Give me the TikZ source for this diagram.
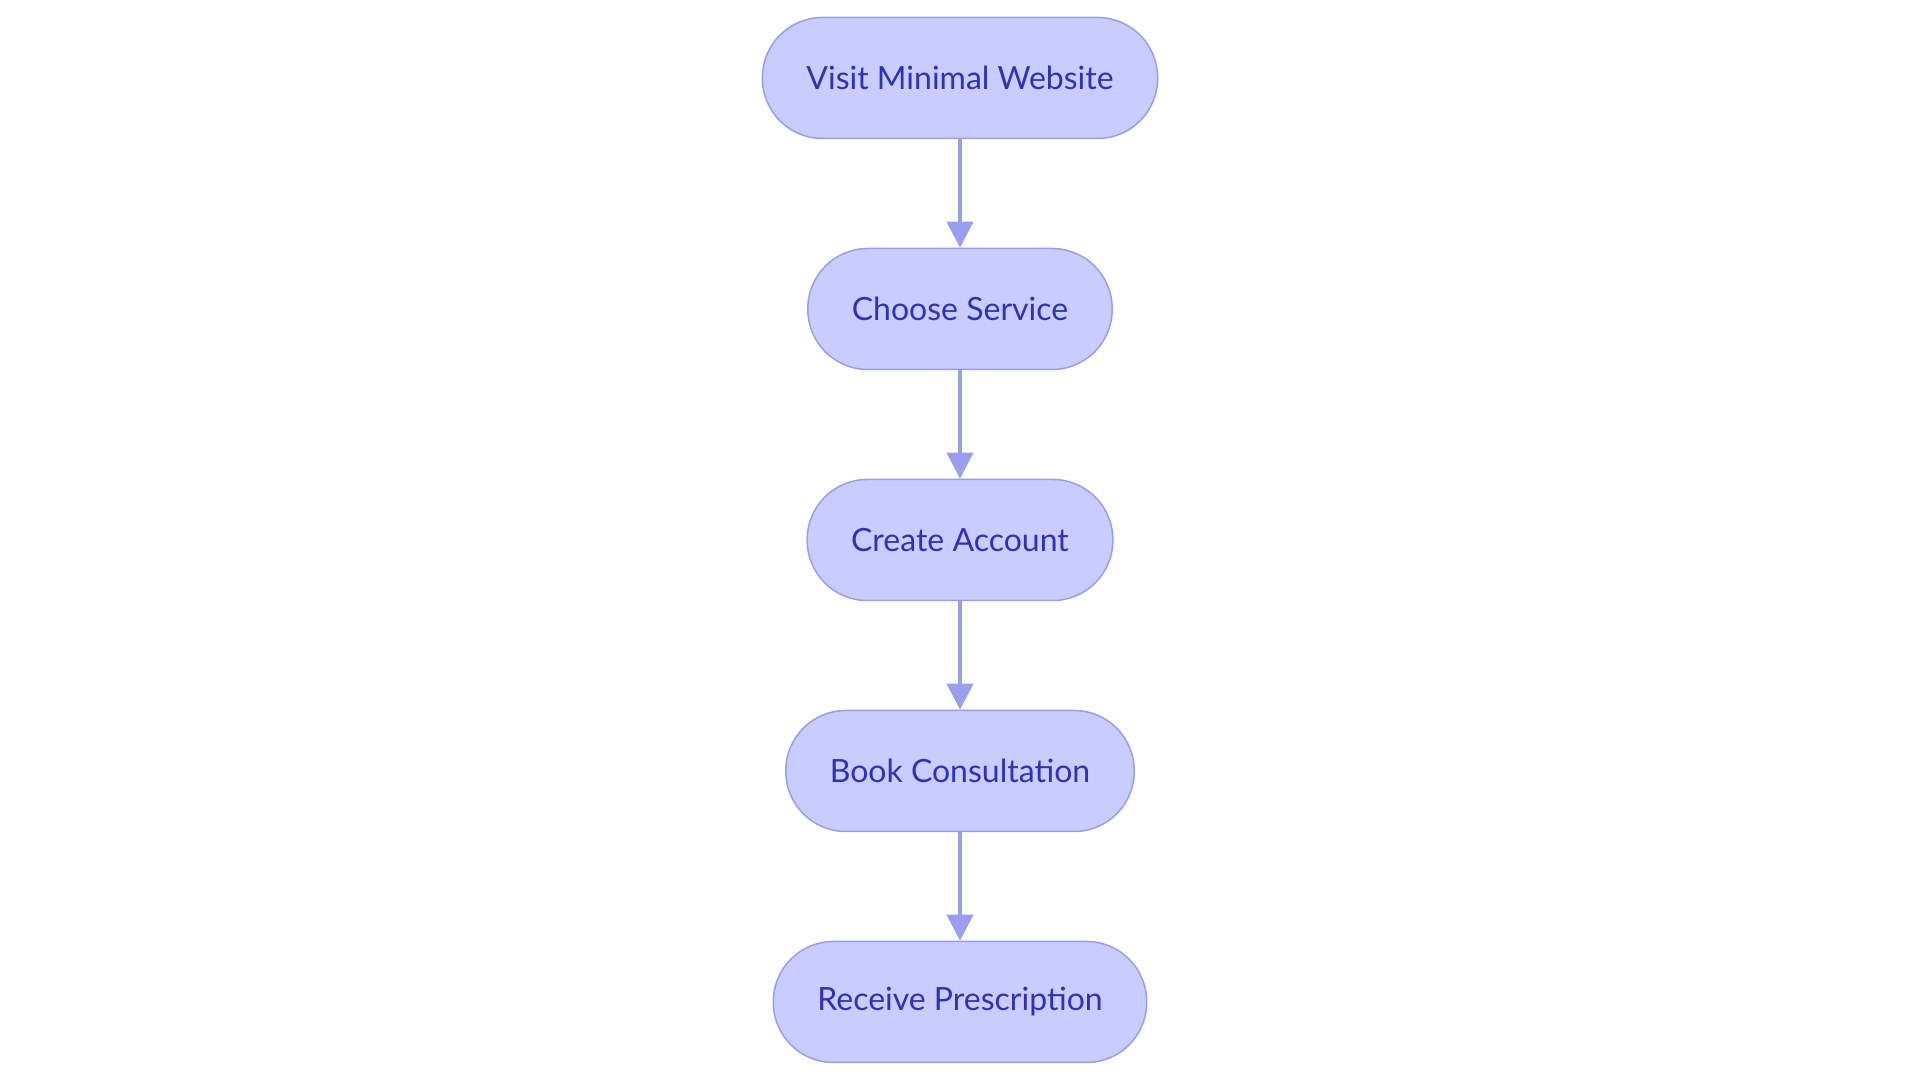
\documentclass[tikz,border=0pt]{standalone}
\usepackage{fontspec}
\setmainfont{Lato}
\usetikzlibrary{positioning,arrows.meta}
\definecolor{boxfill}{HTML}{C8CCFE}
\definecolor{boxline}{HTML}{9A9EEA}
\definecolor{boxtext}{HTML}{2F31B9}
\definecolor{flowline}{HTML}{9A9EEE}
\tikzset{
  stage/.style={draw=boxline, fill=boxfill, text=boxtext, line width=1.5pt,
    rounded corners=60pt, minimum height=121pt, inner xsep=44pt,
    font=\fontsize{32}{36}\selectfont},
  flow/.style={draw=flowline, line width=4pt, -{Triangle[length=26pt,width=26pt]}}
}
\begin{document}
\begin{tikzpicture}[x=1pt,y=1pt]
        \useasboundingbox (0,0) rectangle (1920,1083);

        \node[stage] (visit) at (960,1005) {Visit Minimal Website};
        \node[stage] (choose) at (960,774) {Choose Service};
        \node[stage] (account) at (960,543) {Create Account};
        \node[stage] (book) at (960,312) {Book Consultation};
        \node[stage] (receive) at (960,81) {Receive Prescription};

        %%connectors
        \draw[flow] (visit) -- (choose);
        \draw[flow] (choose) -- (account);
        \draw[flow] (account) -- (book);
        \draw[flow] (book) -- (receive);

\end{tikzpicture}
\end{document}
